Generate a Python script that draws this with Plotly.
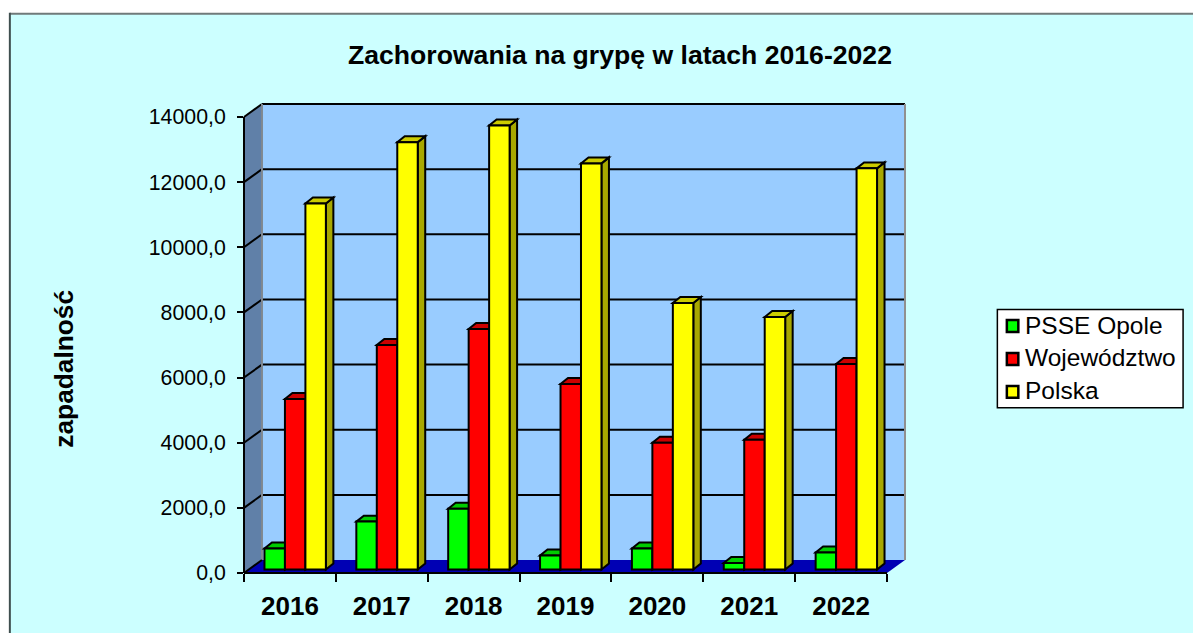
import plotly.graph_objects as go

YEARS = ["2016", "2017", "2018", "2019", "2020", "2021", "2022"]
PSSE = [643, 1470, 1869, 430, 643, 200, 520]
WOJ = [5238, 6893, 7383, 5698, 3890, 3982, 6311]
POLSKA = [11234, 13120, 13632, 12468, 8180, 7750, 12315]
SERIES = [
    ("PSSE Opole", PSSE, "#00FF00", "#00CC00", "#00A800"),
    ("Województwo", WOJ, "#FF0000", "#CC0000", "#A80000"),
    ("Polska", POLSKA, "#FFFF00", "#CCCC00", "#A8A800"),
]
Y_TICKS = [0, 2000, 4000, 6000, 8000, 10000, 12000, 14000]
Y_MAX = 14000

# pixel layout
W, H = 1193, 633
L, R, T, B = 243.5, 905.5, 103.5, 573.5
PX_CAT = 92.0
PX_VAL = 457.0 / Y_MAX
WALL_DX, WALL_DY = 18.0, 13.0
BAR_W, BAR_DX, BAR_DY = 20.5, 7.5, 6.0
PLANE_DX, PLANE_DY = 5.25, 3.5


def ux(px):
    return px / PX_CAT


def uy(px):
    return px / PX_VAL


def paper_x(px):
    return (px - L) / (R - L)


def paper_y(px):
    return (B - px) / (B - T)


def dx2p(x):
    return paper_x(L + x * PX_CAT)


def dy2p(y):
    return paper_y(B - y * PX_VAL)


def poly(pts, fill, lw=0, lc="black", ref="paper"):
    path = "M" + "L".join(f"{a:.5f},{b:.5f}" for a, b in pts) + "Z"
    return dict(type="path", path=path, xref="paper" if ref == "paper" else "x",
                yref="paper" if ref == "paper" else "y", fillcolor=fill, layer="below",
                line=dict(color=lc, width=lw))


def seg(p, q, color="black", lw=2):
    return dict(type="line", xref="paper", yref="paper", layer="below",
                x0=p[0], y0=p[1], x1=q[0], y1=q[1], line=dict(color=color, width=lw))


N = len(YEARS)
wx, wy = ux(WALL_DX), uy(WALL_DY)
X_MAX = N + wx
shapes = []

# chart background
shapes.append(dict(type="rect", xref="paper", yref="paper", layer="below", line=dict(width=0),
                   fillcolor="#CCFFFF", x0=paper_x(9), x1=paper_x(W + 5), y0=paper_y(13), y1=paper_y(H + 5)))
shapes.append(seg((paper_x(9), paper_y(13)), (paper_x(W + 5), paper_y(13)), "#707A7A", 2))
shapes.append(seg((paper_x(9), paper_y(12)), (paper_x(9), paper_y(H + 5)), "#3F4F4F", 2))

# back wall
P = lambda x, y: (dx2p(x), dy2p(y))
shapes.append(poly([P(wx, wy), P(N + wx, wy), P(N + wx, Y_MAX + wy), P(wx, Y_MAX + wy)], "#99CCFF"))
# side wall
shapes.append(poly([P(0, 0), P(wx, wy), P(wx, Y_MAX + wy), P(0, Y_MAX)], "#6080A8"))
# gridlines
for v in Y_TICKS[1:]:
    shapes.append(seg(P(wx, v + wy), P(N + wx, v + wy)))
    shapes.append(seg(P(0, v), P(wx, v + wy)))
# wall edges
shapes.append(seg(P(wx, wy), P(wx, Y_MAX + wy), "#808890", 2))
shapes.append(seg(P(N + wx, wy), P(N + wx, Y_MAX + wy), "#909090", 2))
# floor
shapes.append(poly([P(0, 0), P(N, 0), P(N + wx, wy), P(wx, wy)], "#0000B4"))
# outer axis lines
shapes.append(seg(P(0, 0), P(0, Y_MAX)))
shapes.append(seg(P(0, 0), P(N, 0)))
shapes.append(seg(P(0, 0), P(wx, wy)))

# depth faces of the bars, computed from the data
base = uy(PLANE_DY)
bw, ddx, ddy = ux(BAR_W), ux(BAR_DX), uy(BAR_DY)
centers = [i + 0.5 + ux(PLANE_DX) for i in range(N)]
for s, (name, vals, front, top, side) in enumerate(SERIES):
    off = (s - 1) * bw
    for c, v in zip(centers, vals):
        x0, x1 = c + off - bw / 2, c + off + bw / 2
        y0, y1 = base, base + v
        shapes.append(poly([(x1, y0), (x1 + ddx, y0 + ddy), (x1 + ddx, y1 + ddy), (x1, y1)],
                           side, 2, ref="data"))
        shapes.append(poly([(x0, y1), (x1, y1), (x1 + ddx, y1 + ddy), (x0 + ddx, y1 + ddy)],
                           top, 2, ref="data"))

fig = go.Figure()
for s, (name, vals, front, top, side) in enumerate(SERIES):
    fig.add_trace(go.Bar(
        name=name, x=[c + (s - 1) * bw for c in centers], y=vals, base=base, width=bw,
        marker=dict(color=front, line=dict(color="black", width=2)), showlegend=False,
        hovertext=YEARS,
    ))

# legend
LX0, LX1, LY0, LY1 = 998, 1184, 309.5, 408
shapes.append(dict(type="rect", xref="paper", yref="paper", layer="above", fillcolor="white",
                   line=dict(color="black", width=1.5),
                   x0=paper_x(LX0), x1=paper_x(LX1), y0=paper_y(LY0), y1=paper_y(LY1)))
annotations = []
LEG_Y = [326, 359, 392]
for (name, vals, front, top, side), ly in zip(SERIES, LEG_Y):
    shapes.append(dict(type="rect", xref="paper", yref="paper", layer="above", fillcolor=front,
                       line=dict(color="black", width=2.5),
                       x0=paper_x(1007.5), x1=paper_x(1019), y0=paper_y(ly - 6), y1=paper_y(ly + 6)))
    annotations.append(dict(text=name, xref="paper", yref="paper", x=paper_x(1024), y=paper_y(ly - 1),
                            xanchor="left", yanchor="middle", showarrow=False,
                            font=dict(size=24.5, color="black")))

annotations.append(dict(text="<b>Zachorowania na grypę w latach 2016-2022</b>", xref="paper", yref="paper",
                        x=paper_x(620.5), y=paper_y(54), xanchor="center", yanchor="middle",
                        showarrow=False, font=dict(size=26.6, color="black")))
annotations.append(dict(text="<b>zapadalność</b>", xref="paper", yref="paper", textangle=-90,
                        x=paper_x(63), y=paper_y(369), xanchor="center", yanchor="middle",
                        showarrow=False, font=dict(size=26.3, color="black")))

fig.update_layout(
    width=W, height=H, autosize=False, barmode="overlay", showlegend=False,
    margin=dict(l=L, r=W - R, t=T, b=H - B, pad=0),
    paper_bgcolor="white", plot_bgcolor="rgba(0,0,0,0)",
    font=dict(family="Liberation Sans, Arial, sans-serif", color="black"),
    shapes=shapes, annotations=annotations,
    xaxis=dict(range=[0, X_MAX], showgrid=False, zeroline=False, showline=False,
               tickmode="array", tickvals=[i + 0.5 for i in range(N)], ticktext=YEARS,
               ticks="", ticklabelstandoff=15,
               tickfont=dict(size=26, family="Liberation Sans", weight="bold", color="black"),
               minor=dict(tickmode="array", tickvals=list(range(N + 1)), ticks="outside",
                          ticklen=8, tickwidth=2, tickcolor="black", showgrid=False)),
    yaxis=dict(range=[0, Y_MAX + wy], showgrid=False, zeroline=False, showline=False,
               tickmode="array", tickvals=Y_TICKS, ticktext=[f"{v},0" for v in Y_TICKS],
               ticks="outside", ticklen=6, tickwidth=2, tickcolor="black", ticklabelstandoff=7,
               tickfont=dict(size=21.3, color="black")),
)
fig.write_html("out.html", post_script="document.body.style.margin='0';document.body.style.overflow='hidden';",
               config={"displayModeBar": False})
